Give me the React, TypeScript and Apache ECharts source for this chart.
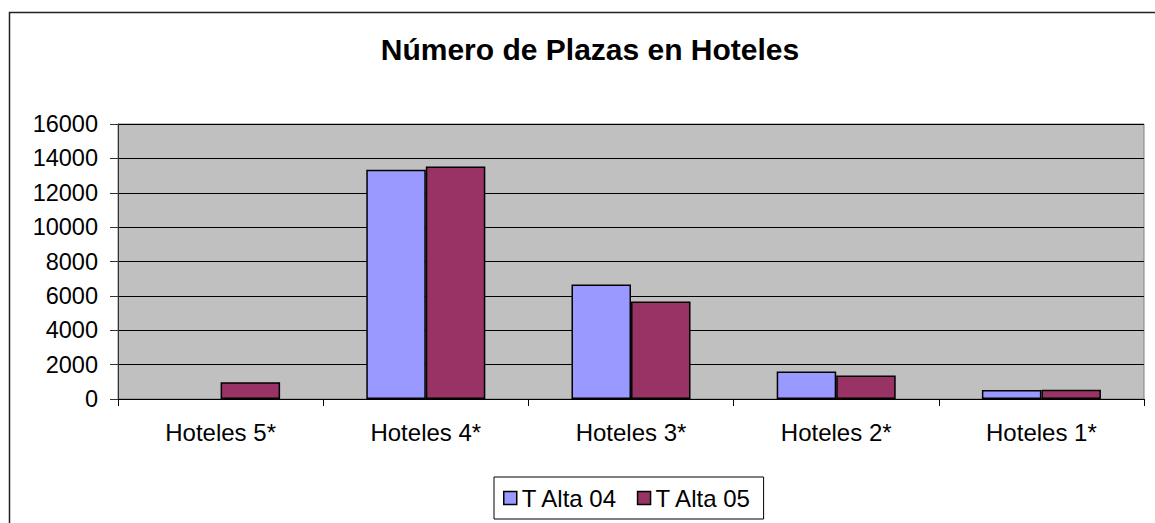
import React, { useEffect, useRef } from "react";
import * as echarts from "echarts";

const categories = ["Hoteles 5*", "Hoteles 4*", "Hoteles 3*", "Hoteles 2*", "Hoteles 1*"];
const tAlta04: (number | null)[] = [null, 13340, 6660, 1600, 530];
const tAlta05: number[] = [970, 13530, 5680, 1370, 540];
const seriesNames = ["T Alta 04", "T Alta 05"];
const titleText = "Número de Plazas en Hoteles";

const FONT = "'Liberation Sans', Arial, sans-serif";

export default function App() {
  const ref = useRef<HTMLDivElement>(null);
  useEffect(() => {
    if (!ref.current) return;
    const chart = echarts.init(ref.current, undefined, { renderer: "svg" });
    chart.setOption({
      animation: false,
      backgroundColor: "#ffffff",
      title: {
        text: titleText,
        left: 585,
        textAlign: "center",
        top: 29,
        textStyle: { fontFamily: FONT, fontSize: 30, fontWeight: "bold", color: "#000" },
      },
      graphic: [
        {
          type: "rect",
          shape: { x: 9.5, y: 12.5, width: 1300, height: 700 },
          style: { fill: "none", stroke: "#222", lineWidth: 1.5 },
          silent: true,
          z: 100,
        },
      ],
      legend: {
        left: 494,
        top: 477,
        padding: [8, 12, 8, 9],
        borderColor: "#000",
        borderWidth: 1,
        itemGap: 19,
        itemWidth: 13,
        itemHeight: 13,
        icon: "rect",
        itemStyle: { borderColor: "#000", borderWidth: 1.5 },
        textStyle: { fontFamily: FONT, fontSize: 24, color: "#000", lineHeight: 26 },
        data: seriesNames,
      },
      grid: {
        left: 118,
        right: 11,
        top: 124,
        bottom: 124,
        show: true,
        backgroundColor: "#c0c0c0",
        borderColor: "#808080",
        borderWidth: 1,
      },
      xAxis: {
        type: "category",
        data: categories,
        boundaryGap: true,
        axisLine: { show: true, lineStyle: { color: "#000", width: 1 } },
        axisTick: { show: true, alignWithLabel: false, length: 7, lineStyle: { color: "#000" } },
        axisLabel: { fontFamily: FONT, fontSize: 24, color: "#000", margin: 21 },
      },
      yAxis: {
        type: "value",
        min: 0,
        max: 16000,
        interval: 2000,
        axisLine: { show: true, lineStyle: { color: "#333", width: 1 } },
        axisTick: { show: true, length: 8, lineStyle: { color: "#333" } },
        axisLabel: {
          fontFamily: FONT,
          fontSize: 23.5,
          color: "#000",
          margin: 20,
          formatter: (v: number) => String(v),
        },
        splitLine: { show: true, lineStyle: { color: "#000", width: 1 } },
      },
      series: [
        {
          name: seriesNames[0],
          type: "bar",
          data: tAlta04,
          barGap: "0%",
          barCategoryGap: "42%",
          itemStyle: { color: "#9999ff", borderColor: "#000", borderWidth: 1.5 },
        },
        {
          name: seriesNames[1],
          type: "bar",
          data: tAlta05,
          barGap: "0%",
          barCategoryGap: "42%",
          itemStyle: { color: "#993366", borderColor: "#000", borderWidth: 1.5 },
        },
      ],
    });
    return () => chart.dispose();
  }, []);
  return (
    <div
      ref={ref}
      style={{ position: "fixed", left: 0, top: 0, width: 1155, height: 523 }}
    />
  );
}
